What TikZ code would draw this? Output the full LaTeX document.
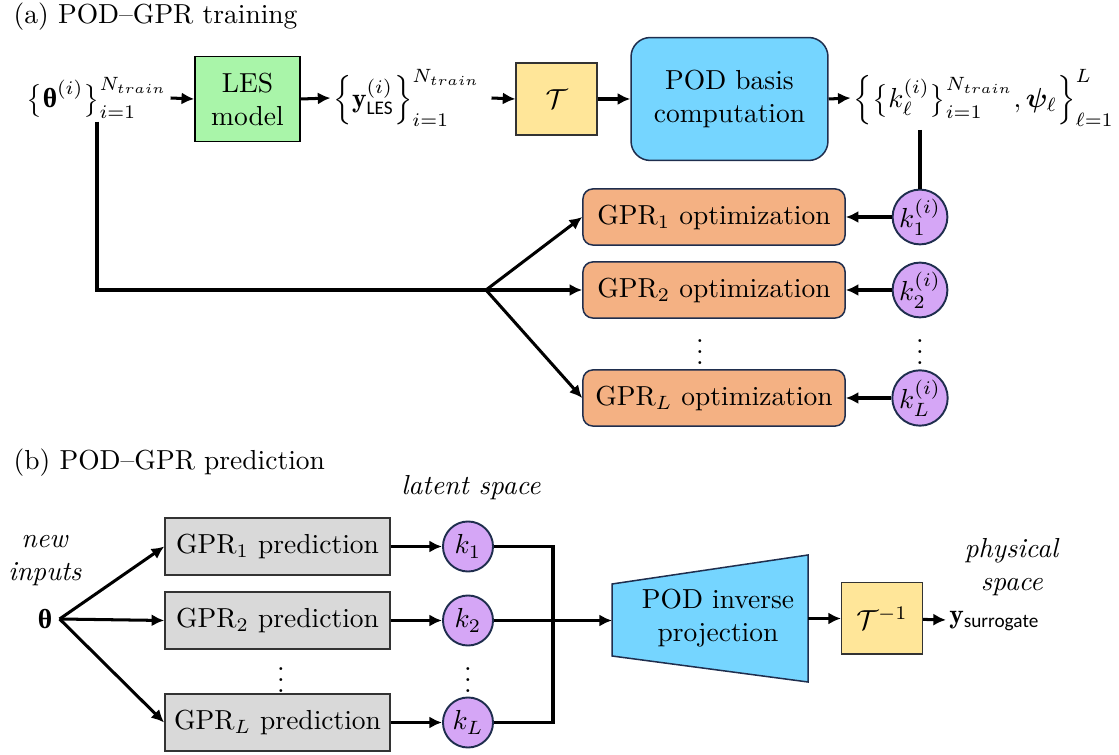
\documentclass[tikz,border=0pt]{standalone}
\usepackage{amsmath}
\usepackage{bm}
\usepackage{fontspec}
\newfontfamily\calib{Carlito}
\newfontfamily\grk{Liberation Serif}
\usetikzlibrary{arrows.meta}
\definecolor{lesgreen}{HTML}{A9F5A9}
\definecolor{tyellow}{HTML}{FFE699}
\definecolor{podblue}{HTML}{75D5FF}
\definecolor{optorange}{HTML}{F4B183}
\definecolor{kpurple}{HTML}{D5A6F6}
\definecolor{predgray}{HTML}{D9D9D9}
\definecolor{edgenavy}{HTML}{1F2E4E}
\newcommand{\bth}{\text{\grk\bfseries θ}}
\tikzset{
  arr/.style={-{Latex[length=4.6pt,width=4.4pt]}, line width=1.1pt},
  wire/.style={line width=1.1pt},
  lbl/.style={inner sep=1pt},
  vdot/.style={inner sep=0pt},
  lesbox/.style={draw=black, line width=0.55pt, fill=lesgreen, minimum width=38.2pt, minimum height=30.9pt, align=center},
  tbox/.style={draw=black!80, line width=0.55pt, fill=tyellow, minimum width=29.3pt, minimum height=26pt},
  podbox/.style={draw=edgenavy, line width=0.55pt, fill=podblue, rounded corners=7pt, minimum width=71.6pt, minimum height=44.7pt, align=center},
  optbox/.style={draw=edgenavy, line width=0.55pt, fill=optorange, rounded corners=3.6pt, minimum width=95.3pt, minimum height=20.4pt},
  predbox/.style={draw=black!80, line width=0.55pt, fill=predgray, minimum width=81.8pt, minimum height=20.7pt},
  kcirc/.style={circle, draw=edgenavy, line width=0.7pt, fill=kpurple, inner sep=0pt, minimum size=19.6pt},
  kbcirc/.style={kcirc, minimum size=18.2pt}
}
\begin{document}
\begin{tikzpicture}[x=0.3636pt, y=-0.3636pt]
  \useasboundingbox (0,0) rectangle (1119,755);
  % (a) training
  \node[anchor=west] (titlea) at (4,17) {(a) POD--GPR training};
  \node[lbl] (thset) at (97,98) {$\big\{\bth^{(i)}\big\}_{i=1}^{N_{train}}$};
  \node[lesbox] (les) at (247.5,99) {LES\\model};
  \node[lbl] (yset) at (407,98) {$\Big\{\mathbf{y}^{(i)}_{\text{\calib LES}}\Big\}_{i=1}^{N_{train}}$};
  \node[tbox] (tfw) at (556.5,99) {$\mathcal{T}$};
  \node[podbox] (pod) at (729.5,99) {POD basis\\computation};
  \node[lbl] (kset) at (984,98) {$\Big\{\big\{k_\ell^{(i)}\big\}_{i=1}^{N_{train}},\bm{\psi}_\ell\Big\}_{\ell=1}^{L}$};
  \node[optbox] (opt1) at (714,217) {GPR$_1$ optimization};
  \node[optbox] (opt2) at (714,290) {GPR$_2$ optimization};
  \node[optbox] (optL) at (714,398) {GPR$_L$ optimization};
  \node[kcirc] (ko1) at (920,217) {$k_1^{(i)}$};
  \node[kcirc] (ko2) at (920,290) {$k_2^{(i)}$};
  \node[kcirc] (koL) at (920,398) {$k_L^{(i)}$};
  \node[vdot] (dota1) at (700,344) {$\vdots$};
  \node[vdot] (dota2) at (920,344) {$\vdots$};
  \coordinate (br) at (486,290);
  \draw[arr] (thset.east) -- (les.west);
  \draw[arr] (les.east) -- (yset.west);
  \draw[arr] (yset.east) ++(8,0) -- (tfw.west);
  \draw[arr] (tfw.east) -- (pod.west);
  \draw[arr] (pod.east) -- (kset.west);
  \draw[wire] (ko1.north |- kset.south) -- (ko1.north);
  \draw[wire] (thset.south) |- (br);
  \draw[arr] (br) -- (opt1.west);
  \draw[arr] (br) -- (opt2.west);
  \draw[arr] (br) -- (optL.west);
  \draw[arr] (ko1) -- (opt1);
  \draw[arr] (ko2) -- (opt2);
  \draw[arr] (koL) -- (optL);
  % (b) prediction
  \node[anchor=west] (titleb) at (4,463) {(b) POD--GPR prediction};
  \node (latent) at (471,488) {\textit{latent space}};
  \node[align=center] (newin) at (45,561) {\textit{new}\\\textit{inputs}};
  \node[inner sep=2.5pt] (th) at (45,619) {$\bth$};
  \node[predbox] (pred1) at (277.5,546.5) {GPR$_1$ prediction};
  \node[predbox] (pred2) at (277.5,620.5) {GPR$_2$ prediction};
  \node[predbox] (predL) at (277.5,722.5) {GPR$_L$ prediction};
  \node[kbcirc] (kb1) at (468,546.5) {$k_1$};
  \node[kbcirc] (kb2) at (468,620.5) {$k_2$};
  \node[kbcirc] (kbL) at (468,722.5) {$k_L$};
  \node[vdot] (dotb1) at (281,672) {$\vdots$};
  \node[vdot] (dotb2) at (468,672) {$\vdots$};
  \draw[draw=edgenavy, line width=0.55pt, fill=podblue] (612,584) -- (808,555) -- (808,682) -- (612,656) -- cycle;
  \node[align=center] (podinv) at (718,618) {POD inverse\\projection};
  \coordinate (pin) at (612,620.5);
  \coordinate (pout) at (808,618.5);
  \coordinate (jn) at (553,620.5);
  \node[tbox] (tinv) at (882,618.5) {$\mathcal{T}^{-1}$};
  \node[lbl, anchor=west] (ysur) at (946,621) {$\mathbf{y}_{\text{\calib surrogate}}$};
  \node[align=center] (phys) at (1012,567) {\textit{physical}\\\textit{space}};
  \draw[arr] (th.east) -- (pred1.west);
  \draw[arr] (th.east) -- (pred2.west);
  \draw[arr] (th.east) -- (predL.west);
  \draw[arr] (pred1) -- (kb1);
  \draw[arr] (pred2) -- (kb2);
  \draw[arr] (predL) -- (kbL);
  \draw[wire] (kb1) -| (jn);
  \draw[wire] (kbL) -| (jn);
  \draw[arr] (kb2) -- (pin);
  \draw[arr] (pout) -- (tinv);
  \draw[arr] (tinv) -- (ysur);
\end{tikzpicture}
\end{document}
